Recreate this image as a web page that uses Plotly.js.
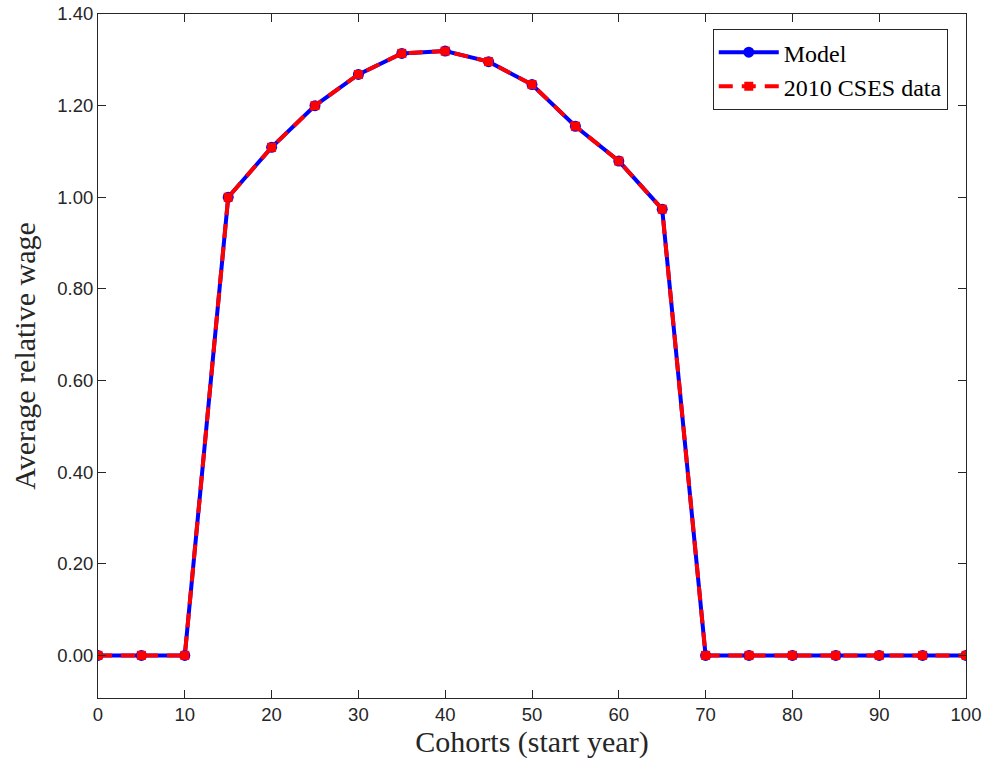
<!DOCTYPE html>
<html>
<head>
<meta charset="utf-8">
<script src="https://cdn.plot.ly/plotly-3.0.1.min.js"></script>
<style>html,body{margin:0;padding:0;background:#fff}#chart{width:987px;height:770px}</style>
</head>
<body>
<div id="chart"></div>
<script>
const cohorts = [0,5,10,15,20,25,30,35,40,45,50,55,60,65,70,75,80,85,90,95,100];
const modelWage = [0,0,0,1.000,1.109,1.200,1.268,1.314,1.319,1.296,1.246,1.155,1.079,0.974,0,0,0,0,0,0,0];
const csesWage  = [0,0,0,1.000,1.109,1.200,1.268,1.314,1.319,1.296,1.246,1.155,1.079,0.974,0,0,0,0,0,0,0];
const yTickVals = [0,0.2,0.4,0.6,0.8,1.0,1.2,1.4];
const xTickVals = [0,10,20,30,40,50,60,70,80,90,100];

const serif = 'Liberation Serif, Times New Roman, serif';
const traces = [
  {x: cohorts, y: modelWage, name: 'Model', type: 'scatter', mode: 'lines+markers',
   line: {color: '#0000ff', width: 4}, marker: {symbol: 'circle', size: 11, color: '#0000ff'}},
  {x: cohorts, y: csesWage, name: '2010 CSES data', type: 'scatter', mode: 'lines+markers',
   line: {color: '#ff0000', width: 4, dash: '14px,9px'}, marker: {symbol: 'square', size: 9, color: '#ff0000'}}
];
const axisCommon = {showgrid: false, zeroline: false, showline: true, linecolor: '#262626', linewidth: 1,
  mirror: 'ticks', ticks: 'inside', ticklen: 8, tickcolor: '#262626', tickwidth: 1,
  tickfont: {family: 'Liberation Sans, Arial, sans-serif', size: 18.5, color: '#262626'}};
const layout = {
  width: 987, height: 770,
  margin: {l: 98, r: 21, t: 14, b: 72},
  paper_bgcolor: '#fff', plot_bgcolor: '#fff',
  showlegend: true,
  legend: {x: 0.979, y: 0.978, xanchor: 'right', yanchor: 'top', bordercolor: '#262626', borderwidth: 1,
    bgcolor: '#fff', font: {family: serif, size: 24, color: '#000'},
    itemwidth: 60, tracegroupgap: 0},
  xaxis: Object.assign({}, axisCommon, {range: [0, 100], tickvals: xTickVals,
    title: {text: 'Cohorts (start year)', font: {family: serif, size: 30, color: '#262626'}, standoff: 6}}),
  yaxis: Object.assign({}, axisCommon, {range: [-0.093, 1.4], tickvals: yTickVals, tickformat: '.2f',
    title: {text: 'Average relative wage', font: {family: serif, size: 30, color: '#262626'}, standoff: 12}})
};
Plotly.newPlot('chart', traces, layout, {displayModeBar: false});
</script>
</body>
</html>
